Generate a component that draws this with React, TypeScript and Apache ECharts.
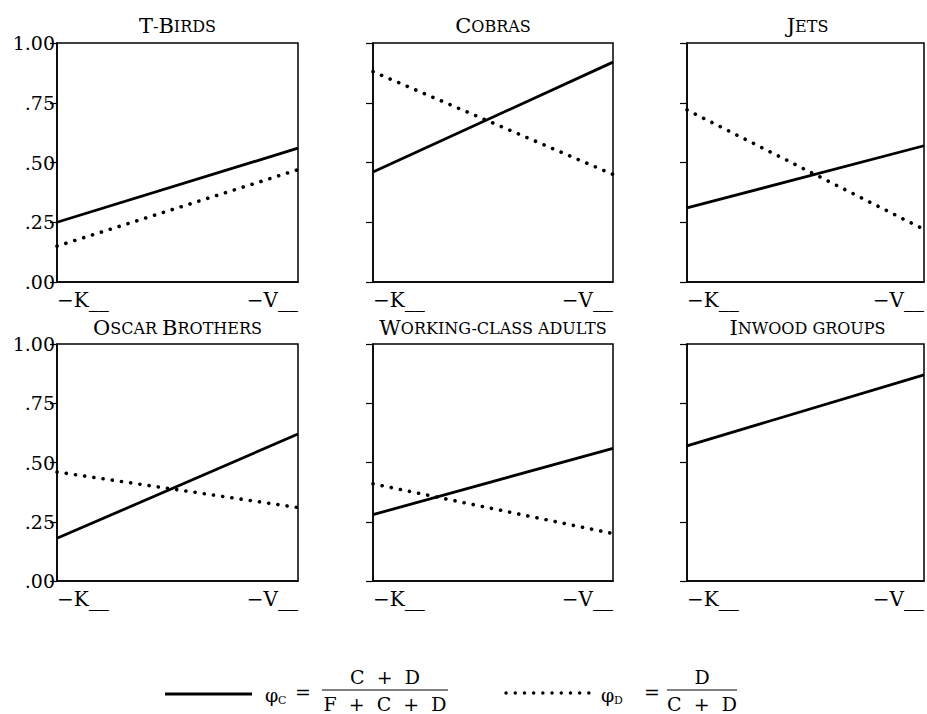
import React, { useEffect, useRef } from "react";
import * as echarts from "echarts";

const categories = ["−K__", "−V__"];
const yTickLabels = [".00", ".25", ".50", ".75", "1.00"];
const panelTitles = ["T-Birds", "Cobras", "Jets", "Oscar Brothers", "Working-class adults", "Inwood groups"];

const phiC_TBirds = [0.25, 0.56];
const phiD_TBirds = [0.15, 0.47];
const phiC_Cobras = [0.46, 0.92];
const phiD_Cobras = [0.88, 0.45];
const phiC_Jets = [0.31, 0.57];
const phiD_Jets = [0.72, 0.22];
const phiC_Oscar = [0.18, 0.62];
const phiD_Oscar = [0.46, 0.31];
const phiC_Working = [0.28, 0.56];
const phiD_Working = [0.41, 0.2];
const phiC_Inwood = [0.57, 0.87];
const phiD_Inwood: number[] | null = null;

const phiC = [phiC_TBirds, phiC_Cobras, phiC_Jets, phiC_Oscar, phiC_Working, phiC_Inwood];
const phiD = [phiD_TBirds, phiD_Cobras, phiD_Jets, phiD_Oscar, phiD_Working, phiD_Inwood];

const FONT = "DejaVu Serif";
const colLefts = [57, 373, 687];
const colWidths = [241, 240, 241];
const rowTops = [43, 344];
const rowHeights = [239, 237];
const titleY = [26, 328];

function smallCaps(t: string) {
  let out = "";
  let cur = "";
  let curType = "";
  for (const ch of t) {
    const type = ch !== ch.toLowerCase() ? "b" : "s";
    if (type !== curType && cur) {
      out += `{${curType}|${cur}}`;
      cur = "";
    }
    curType = type;
    cur += type === "s" ? ch.toUpperCase() : ch;
  }
  if (cur) out += `{${curType}|${cur}}`;
  return out;
}

export default function App() {
  const ref = useRef<HTMLDivElement>(null);
  useEffect(() => {
    if (!ref.current) return;
    const chart = echarts.init(ref.current, undefined, { renderer: "svg" });
    const grids: any[] = [];
    const xAxes: any[] = [];
    const yAxes: any[] = [];
    const series: any[] = [];
    const graphics: any[] = [];
    panelTitles.forEach((title, i) => {
      const r = Math.floor(i / 3);
      const c = i % 3;
      grids.push({
        left: colLefts[c],
        top: rowTops[r],
        width: colWidths[c],
        height: rowHeights[r],
        show: true,
        borderColor: "#000",
        borderWidth: 1.5,
        backgroundColor: "transparent",
      });
      xAxes.push({
        type: "category",
        gridIndex: i,
        data: categories,
        boundaryGap: false,
        axisTick: { show: false },
        axisLine: { show: true, lineStyle: { color: "#000", width: 1.5 } },
        splitLine: { show: false },
        axisLabel: {
          interval: 0,
          color: "#000",
          fontFamily: FONT,
          fontSize: 20,
          margin: 8,
          alignMinLabel: "left",
          alignMaxLabel: "right",
        },
      });
      yAxes.push({
        type: "value",
        gridIndex: i,
        min: 0,
        max: 1,
        interval: 0.25,
        splitLine: { show: false },
        axisLine: { show: true, lineStyle: { color: "#000", width: 1.5 } },
        axisTick: { show: true, length: 7, lineStyle: { color: "#000", width: 1.2 } },
        axisLabel: {
          show: c === 0,
          color: "#000",
          fontFamily: FONT,
          fontSize: 19,
          margin: 2,
          formatter: (_v: number, idx: number) => yTickLabels[idx],
        },
      });
      series.push({
        type: "line",
        name: "φC",
        xAxisIndex: i,
        yAxisIndex: i,
        data: phiC[i],
        symbol: "none",
        lineStyle: { color: "#000", width: 2.8 },
      });
      if (phiD[i]) {
        series.push({
          type: "line",
          name: "φD",
          xAxisIndex: i,
          yAxisIndex: i,
          data: phiD[i],
          symbol: "none",
          lineStyle: { color: "#000", width: 3.6, type: [0.1, 9.2], cap: "round" },
        });
      }
      graphics.push({
        type: "text",
        x: colLefts[c] + colWidths[c] / 2,
        y: titleY[r],
        style: {
          text: smallCaps(title),
          align: "center",
          verticalAlign: "middle",
          fill: "#000",
          fontFamily: FONT,
          rich: {
            b: { fontFamily: FONT, fontSize: 21, fill: "#000" },
            s: { fontFamily: FONT, fontSize: 16, fill: "#000" },
          },
        },
      });
    });

    const txt = (text: string, x: number, y: number, size = 19, align = "center") => ({
      type: "text",
      x,
      y,
      style: { text, align, verticalAlign: "middle", fill: "#000", fontFamily: FONT, fontSize: size },
    });
    // legend: solid
    graphics.push({
      type: "line",
      shape: { x1: 165, y1: 694, x2: 252, y2: 694 },
      style: { stroke: "#000", lineWidth: 3 },
    });
    graphics.push(txt("φ", 265, 695, 19, "left"));
    graphics.push(txt("C", 278, 700, 11, "left"));
    graphics.push(txt("=", 303, 692, 19));
    graphics.push({
      type: "line",
      shape: { x1: 322, y1: 690, x2: 448, y2: 690 },
      style: { stroke: "#000", lineWidth: 1.2 },
    });
    graphics.push(txt("C  +  D", 385, 677, 19));
    graphics.push(txt("F  +  C  +  D", 385, 704, 19));
    // legend: dotted
    graphics.push({
      type: "line",
      shape: { x1: 506, y1: 693, x2: 597, y2: 693 },
      style: { stroke: "#000", lineWidth: 3.4, lineDash: [0.1, 9.1], lineCap: "round" },
    });
    graphics.push(txt("φ", 601, 695, 19, "left"));
    graphics.push(txt("D", 614, 700, 11, "left"));
    graphics.push(txt("=", 652, 692, 19));
    graphics.push({
      type: "line",
      shape: { x1: 667, y1: 690, x2: 737, y2: 690 },
      style: { stroke: "#000", lineWidth: 1.2 },
    });
    graphics.push(txt("D", 702, 677, 19));
    graphics.push(txt("C  +  D", 702, 704, 19));

    chart.setOption({
      animation: false,
      backgroundColor: "#fff",
      grid: grids,
      xAxis: xAxes,
      yAxis: yAxes,
      series,
      graphic: graphics,
    });
    return () => chart.dispose();
  }, []);
  return (
    <div
      ref={ref}
      style={{ position: "absolute", left: 0, top: 0, width: 927, height: 714, background: "#fff" }}
    />
  );
}
